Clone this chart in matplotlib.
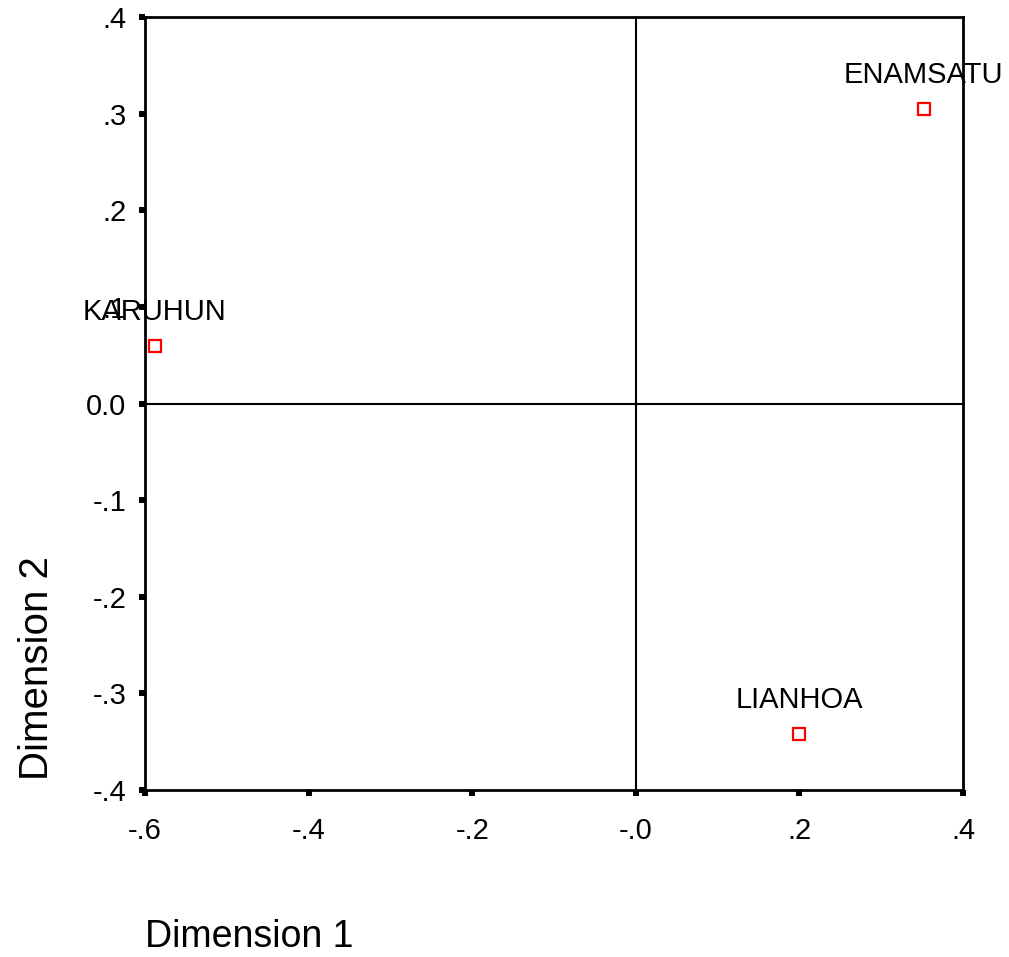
import matplotlib
matplotlib.use("Agg")
import matplotlib.pyplot as plt

plt.rcParams['font.family'] = ['Liberation Sans', 'DejaVu Sans']

# row points from the correspondence plot
names = ['KARUHUN', 'ENAMSATU', 'LIANHOA']
dim1 = [-0.588, 0.352, 0.200]
dim2 = [0.060, 0.305, -0.342]

xticks = [-0.6, -0.4, -0.2, 0.0, 0.2, 0.4]
xlabels = ['-.6', '-.4', '-.2', '-.0', '.2', '.4']
yticks = [-0.4, -0.3, -0.2, -0.1, 0.0, 0.1, 0.2, 0.3, 0.4]
ylabels = ['-.4', '-.3', '-.2', '-.1', '0.0', '.1', '.2', '.3', '.4']

fig = plt.figure(figsize=(10.09, 9.57), dpi=100)
ax = fig.add_axes([0.1437, 0.1745, 0.8107, 0.8077])

ax.axhline(0, color='k', lw=1.5, zorder=1)
ax.axvline(0, color='k', lw=1.5, zorder=1)

ax.plot(dim1, dim2, 's', ls='none', ms=8, mfc='white', mec='red', mew=1.6, zorder=3)
for n, x, y in zip(names, dim1, dim2):
    ax.annotate(n, (x, y), xytext=(0, 24.5), textcoords='offset points',
                ha='center', va='center', fontsize=21)

ax.set_xlim(-0.6, 0.4)
ax.set_ylim(-0.4, 0.4)
ax.set_xticks(xticks)
ax.set_xticklabels(xlabels)
ax.set_yticks(yticks)
ax.set_yticklabels(ylabels)
ax.tick_params(direction='out', length=4.3, width=4.3, labelsize=21)
ax.tick_params(axis='x', pad=15)
ax.tick_params(axis='y', pad=9)
for s in ax.spines.values():
    s.set_linewidth(2.0)

fig.text(37 / 1009, 1 - 668 / 957, 'Dimension 2', rotation=90,
         ha='center', va='center', fontsize=29)
fig.text(145 / 1009, 1 - 937 / 957, 'Dimension 1',
         ha='left', va='center', fontsize=27)

fig.savefig('out.png', dpi=100)
